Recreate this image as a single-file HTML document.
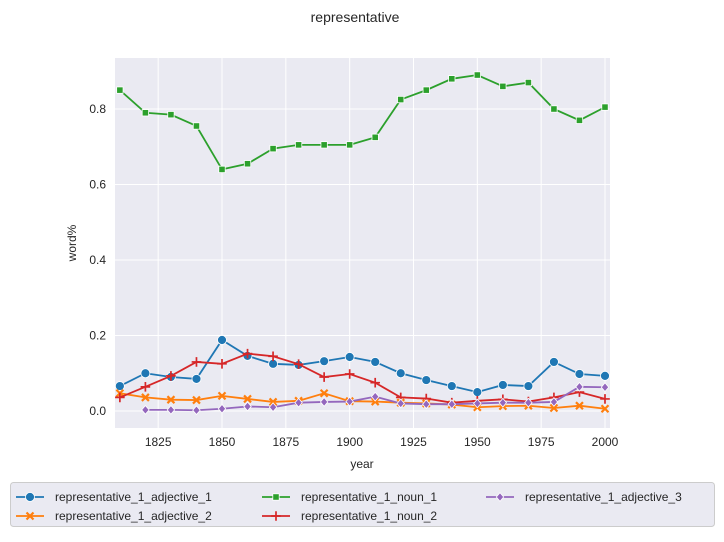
<!DOCTYPE html>
<html><head><meta charset="utf-8"><style>
body{margin:0;background:#fff;font-family:"Liberation Sans","DejaVu Sans",sans-serif}
svg text{font-family:"Liberation Sans","DejaVu Sans",sans-serif;fill:#262626}
</style></head><body>
<svg id="chart" width="724" height="537">
<text x="355" y="22" font-size="14" text-anchor="middle">representative</text>
<rect x="115" y="58" width="495" height="370" fill="#eaeaf2"/>
<g id="grid"></g><g id="series"></g><g id="ticks"></g>
<text x="362" y="468" font-size="12" text-anchor="middle">year</text>
<text x="76" y="243" font-size="12" text-anchor="middle" transform="rotate(-90 76 243)">word%</text>
<rect x="10.5" y="482.5" width="704" height="44" rx="3" fill="#eaeaf2" stroke="#ccc"/>
<g id="legend"></g>
</svg>
<script>
const years=[1810,1820,1830,1840,1850,1860,1870,1880,1890,1900,1910,1920,1930,1940,1950,1960,1970,1980,1990,2000];
const adj1=[0.066,0.10,0.09,0.085,0.188,0.146,0.125,0.122,0.132,0.143,0.13,0.10,0.082,0.066,0.05,0.069,0.066,0.13,0.098,0.093];
const adj2=[0.047,0.036,0.03,0.029,0.04,0.032,0.024,0.027,0.047,0.026,0.025,0.022,0.02,0.017,0.01,0.013,0.014,0.008,0.014,0.006];
const noun1=[0.85,0.79,0.785,0.755,0.64,0.655,0.695,0.705,0.705,0.705,0.725,0.825,0.85,0.88,0.89,0.86,0.87,0.80,0.77,0.805];
const noun2=[0.036,0.064,0.093,0.13,0.125,0.152,0.145,0.124,0.09,0.098,0.075,0.036,0.033,0.022,0.027,0.031,0.025,0.036,0.05,0.032];
const adj3=[null,0.003,0.003,0.002,0.006,0.012,0.01,0.022,0.024,0.025,0.038,0.02,0.018,0.018,0.02,0.022,0.022,0.024,0.064,0.063];
const xTicks=[1825,1850,1875,1900,1925,1950,1975,2000];
const yTicks=[0,0.2,0.4,0.6,0.8];
const NS="http://www.w3.org/2000/svg";
const X=v=>222+(v-1850)*2.5533, Y=v=>411-v*377.5;
function mk(t,a,p){const e=document.createElementNS(NS,t);for(const k in a)e.setAttribute(k,a[k]);p.appendChild(e);return e;}
const grid=document.getElementById('grid'),ticks=document.getElementById('ticks');
xTicks.forEach(t=>{const l=mk('line',{x1:X(t),x2:X(t),y1:58,y2:428,stroke:'#fff','stroke-width':1},grid);

const tx=mk('text',{x:X(t),y:446,'font-size':12,'text-anchor':'middle'},ticks);tx.textContent=t;
});
yTicks.forEach(t=>{const l=mk('line',{x1:115,x2:610,y1:Y(t),y2:Y(t),stroke:'#fff','stroke-width':1},grid);

const tx=mk('text',{x:106,y:Y(t)+4,'font-size':12,'text-anchor':'end'},ticks);tx.textContent=t.toFixed(1);
});
function marker(m,x,y,c,g){
 if(m==='o')return mk('circle',{cx:x,cy:y,r:4.5,fill:c,stroke:'#fff','stroke-width':0.8},g);
 if(m==='s')return mk('rect',{x:x-3.2,y:y-3.2,width:6.4,height:6.4,fill:c,stroke:'#fff','stroke-width':0.8},g);
 if(m==='d')return mk('path',{d:`M${x},${y-4.3}L${x+3.7},${y}L${x},${y+4.3}L${x-3.7},${y}Z`,fill:c,stroke:'#fff','stroke-width':0.8},g);
 if(m==='x')return mk('path',{d:`M${x-3.5},${y-3.5}L${x+3.5},${y+3.5}M${x-3.5},${y+3.5}L${x+3.5},${y-3.5}`,stroke:c,'stroke-width':2.2},g);
 return mk('path',{d:`M${x-4.8},${y}L${x+4.8},${y}M${x},${y-4.8}L${x},${y+4.8}`,stroke:c,'stroke-width':1.7},g);
}
const series=[["representative_1_adjective_1",adj1,'#1f77b4','o'],["representative_1_adjective_2",adj2,'#ff7f0e','x'],
["representative_1_noun_1",noun1,'#2ca02c','s'],["representative_1_noun_2",noun2,'#d62728','+'],["representative_1_adjective_3",adj3,'#9467bd','d']];
const sg=document.getElementById('series');
series.forEach(([name,vals,c,m])=>{const g=mk('g',{},sg);

const pts=[];vals.forEach((v,i)=>{if(v!==null)pts.push([X(years[i]),Y(v)]);});
const pl=mk('polyline',{points:pts.map(p=>p.join(',')).join(' '),fill:'none',stroke:c,'stroke-width':1.8},g);

pts.forEach(p=>{const e=marker(m,p[0],p[1],c,g);});});
const lg=document.getElementById('legend');
const pos=[[16,497],[16,516],[262,497],[262,516],[486,497]];
series.forEach(([name,vals,c,m],i)=>{const [x,y]=pos[i];const g=mk('g',{},lg);

mk('line',{x1:x,x2:x+28,y1:y,y2:y,stroke:c,'stroke-width':1.8},g);marker(m,x+14,y,c,g);
const t=mk('text',{x:x+39,y:y+4,'font-size':12},g);t.textContent=name;});
</script>
</body></html>
